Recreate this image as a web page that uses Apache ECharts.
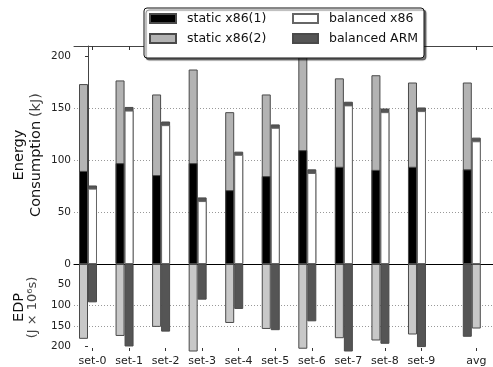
<!DOCTYPE html>
<html><head><meta charset="utf-8">
<script src="https://cdn.jsdelivr.net/npm/echarts@6/dist/echarts.min.js"></script>
<style>html,body{margin:0;padding:0;background:#fff}#c{width:493px;height:367px}</style>
</head><body><div id="c"></div>
<script>
const categories = ['set-0','set-1','set-2','set-3','set-4','set-5','set-6','set-7','set-8','set-9','avg'];
const positions = [0,1,2,3,4,5,6,7,8,9,10.5];
const staticX86_1 = [89.5, 97, 85.5, 97, 71, 84.5, 109.5, 93.5, 90.5, 93.5, 91];
const staticX86_2 = [83.5, 79.5, 77.5, 90, 75, 78.5, 91.5, 85, 91, 81, 83.5];
const balancedX86 = [72.5, 147.5, 133.5, 60.5, 105, 131, 87.5, 152.5, 146, 147, 118];
const balancedARM = [3, 3.5, 3.5, 3.5, 3, 3.2, 3.5, 3.5, 3.5, 3.5, 3.5];
const edpStatic = [181.5, 174.5, 152.5, 215, 143, 157.5, 205.5, 180, 185.5, 171, 176.5];
const edpBalanced = [93, 200, 164, 86.5, 109, 160.5, 139, 215, 193.5, 201.5, 156.5];
const energyTicks = [0, 50, 100, 150, 200];
const edpTicks = [50, 100, 150, 200];

const FONT = 'DejaVu Sans';
const XMIN = -0.383, XMAX = 11.08;
const HALF = 0.123;   // half a bar width in axis units
const labelVals = positions.map(p => p + HALF);
const C_BLACK = '#000000', C_GRAY = '#b3b3b3', C_WHITE = '#ffffff', C_ARM = '#555555';
const C_LIGHT = '#c8c8c8', C_DARK = '#555555';
const EDGE = '#4a4a4a';

// stacked tops built from the component arrays
const staticTop = staticX86_1.map((v, i) => v + staticX86_2[i]);
const balancedTop = balancedX86.map((v, i) => v + balancedARM[i]);

function left(vals) { return vals.map((v, i) => [positions[i] - HALF, v]); }
function right(vals) { return vals.map((v, i) => [positions[i] + HALF, v]); }
function fmtX(v) {
  const i = labelVals.findIndex(p => Math.abs(p - v) < 0.01);
  return i >= 0 ? categories[i] : '';
}
function xAx(grid, pos, opt) {
  return Object.assign({
    type: 'value', gridIndex: grid, position: pos, min: XMIN, max: XMAX,
    axisLine: { show: false, onZero: false },
    axisTick: { show: true, inside: true, length: 4, customValues: labelVals, lineStyle: { color: '#333' } },
    axisLabel: { show: false },
    splitLine: { show: false }
  }, opt);
}
const barBase = { type: 'bar', barWidth: 9, barGap: '-100%', clip: true };
function bar(opt) { return Object.assign({}, barBase, opt); }

const chart = echarts.init(document.getElementById('c'), null, { renderer: 'canvas' });
const last = categories.length - 1;
chart.setOption({
  animation: false,
  backgroundColor: '#fff',
  textStyle: { fontFamily: FONT },
  grid: [
    { left: 74, right: 0, top: 46, height: 218 },
    { left: 74, right: 0, top: 264, height: 88 }
  ],
  xAxis: [
    xAx(0, 'bottom', { axisLine: { show: true, onZero: false, lineStyle: { color: '#000', width: 1.2 } } }),
    xAx(0, 'top', { axisLine: { show: true, onZero: false, lineStyle: { color: '#444', width: 1 } } }),
    xAx(1, 'bottom', {
      axisTick: { show: true, inside: true, length: 3, customValues: labelVals, lineStyle: { color: '#333' } },
      axisLabel: { show: true, customValues: labelVals, formatter: fmtX, fontSize: 11, color: '#222', margin: 5, fontFamily: FONT }
    }),
    xAx(1, 'top', {})
  ],
  yAxis: [
    {
      type: 'value', gridIndex: 0, min: 0, max: 209.6, interval: 50,
      axisLine: { show: true, lineStyle: { color: '#444' } },
      axisTick: { show: true, length: 3, customValues: energyTicks, lineStyle: { color: '#333' } },
      axisLabel: { customValues: energyTicks, fontSize: 10.5, color: '#222', margin: 3, fontFamily: FONT },
      splitLine: { show: true, showMaxLine: false, lineStyle: { color: '#999', type: [1, 2], width: 1 } },
      name: '{a|Energy}\n{a|Consumption} {b|(kJ)}',
      nameLocation: 'middle', nameRotate: 90, nameGap: 29, nameMoveOverlap: false,
      nameTextStyle: { fontFamily: FONT, rich: {
        a: { fontSize: 14.5, color: '#111', fontFamily: FONT, lineHeight: 17 },
        b: { fontSize: 14.5, color: '#444', fontFamily: FONT, lineHeight: 17 } } }
    },
    {
      type: 'value', gridIndex: 1, min: 0, max: 211, interval: 50, inverse: true,
      axisLine: { show: false },
      axisTick: { show: true, length: 3, customValues: edpTicks, lineStyle: { color: '#333' } },
      axisLabel: { customValues: edpTicks, fontSize: 10.5, color: '#222', margin: 3, fontFamily: FONT },
      splitLine: { show: true, showMinLine: false, showMaxLine: false, lineStyle: { color: '#999', type: [1, 2], width: 1 } },
      name: '{a|EDP}\n{b|(J × 10⁶s)}',
      nameLocation: 'middle', nameRotate: 90, nameGap: 34, nameMoveOverlap: false,
      nameTextStyle: { fontFamily: FONT, rich: {
        a: { fontSize: 14.5, color: '#111', fontFamily: FONT, lineHeight: 14 },
        b: { fontSize: 13, color: '#444', fontFamily: FONT, lineHeight: 14 } } }
    }
  ],
  legend: [
    { data: ['static x86(1)', 'static x86(2)'], orient: 'vertical', left: 149, top: 12, padding: 0,
      itemWidth: 26, itemHeight: 9, itemGap: 7, icon: 'rect',
      textStyle: { fontSize: 12.5, color: '#111', fontFamily: FONT, padding: [0, 0, 0, 6] } },
    { data: ['balanced x86', 'balanced ARM'], orient: 'vertical', left: 292, top: 12, padding: 0,
      itemWidth: 25, itemHeight: 9, itemGap: 7, icon: 'rect',
      textStyle: { fontSize: 12.5, color: '#111', fontFamily: FONT, padding: [0, 0, 0, 6] } }
  ],
  graphic: [
    { type: 'rect', z: 3, shape: { x: 144, y: 8, width: 280, height: 50, r: 3 },
      style: { fill: '#fff', stroke: '#111', lineWidth: 1, shadowColor: 'rgba(0,0,0,0.55)', shadowOffsetX: 2, shadowOffsetY: 2, shadowBlur: 1 } }
  ],
  series: [
    bar({ name: 'static x86(2)', xAxisIndex: 0, yAxisIndex: 0, data: left(staticTop),
      itemStyle: { color: C_GRAY, borderColor: EDGE, borderWidth: 1 } }),
    bar({ name: 'static x86(1)', xAxisIndex: 0, yAxisIndex: 0, data: left(staticX86_1),
      itemStyle: { color: C_BLACK, borderColor: EDGE, borderWidth: 1 } }),
    bar({ name: 'balanced ARM', xAxisIndex: 0, yAxisIndex: 0, data: right(balancedTop),
      itemStyle: { color: C_ARM, borderColor: EDGE, borderWidth: 1 } }),
    bar({ name: 'balanced x86', xAxisIndex: 0, yAxisIndex: 0, data: right(balancedX86),
      itemStyle: { color: C_WHITE, borderColor: '#666', borderWidth: 1 } }),
    bar({ name: 'EDP static', xAxisIndex: 2, yAxisIndex: 1,
      data: left(edpStatic).map((d, i) => ({ value: d, itemStyle: { color: i === last ? C_DARK : C_LIGHT } })),
      itemStyle: { borderColor: EDGE, borderWidth: 1 } }),
    bar({ name: 'EDP balanced', xAxisIndex: 2, yAxisIndex: 1,
      data: right(edpBalanced).map((d, i) => ({ value: d, itemStyle: { color: i === last ? C_LIGHT : C_DARK } })),
      itemStyle: { borderColor: EDGE, borderWidth: 1 } })
  ]
});
</script></body></html>
